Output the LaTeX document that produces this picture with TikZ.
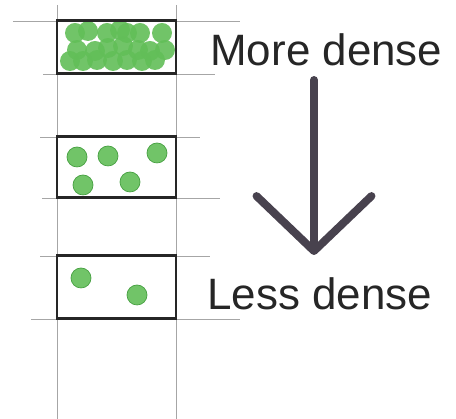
\documentclass[tikz,border=0pt]{standalone}
\usepackage{fontspec}
\setmainfont{Liberation Sans}
\usetikzlibrary{arrows.meta}
\definecolor{pea}{RGB}{98,190,88}
\definecolor{peaedge}{RGB}{70,160,65}
\definecolor{marker}{RGB}{72,66,78}
\tikzset{
  gridline/.style={draw=black!35, line width=0.5pt},
  band/.style={draw=black!85, line width=1.7pt, minimum width=2.38cm, inner sep=0pt},
  pea/.style={fill=pea, fill opacity=0.9},
  peaedged/.style={pea, draw=peaedge, line width=0.4pt},
  label/.style={font=\fontsize{25}{30}\selectfont, text=black!85, anchor=base west, inner sep=0pt},
  flow/.style={-{Straight Barb[length=11mm, width=23mm, line cap=round, line join=round]}, line width=4.5pt, draw=marker, line cap=round},
}
\begin{document}
\begin{tikzpicture}
    \useasboundingbox (0,0) rectangle (9.12,8.38);
    \draw[gridline] (1.14,8.28) -- (1.14,0);
    \draw[gridline] (3.52,8.28) -- (3.52,0);
    \draw[gridline] (0.26,7.96) -- (4.80,7.96);
    \draw[gridline] (0.86,6.90) -- (4.30,6.90);
    \draw[gridline] (0.80,5.64) -- (4.00,5.64);
    \draw[gridline] (0.84,4.42) -- (4.40,4.42);
    \draw[gridline] (0.80,3.26) -- (4.20,3.26);
    \draw[gridline] (0.62,2.00) -- (4.80,2.00);
    \foreach \x/\y in {1.50/7.72, 1.76/7.76, 2.14/7.72, 2.40/7.78, 2.54/7.72, 2.80/7.72, 3.24/7.72,
                       1.54/7.38, 1.90/7.36, 2.16/7.42, 2.46/7.46, 2.76/7.38, 3.00/7.36, 3.30/7.38,
                       1.40/7.16, 1.66/7.16, 1.94/7.18, 2.26/7.16, 2.54/7.18, 2.84/7.16, 3.10/7.18}
      \fill[pea] (\x,\y) circle (0.2);
    \foreach \x/\y in {1.54/5.24, 2.16/5.26, 3.14/5.32, 1.66/4.68, 2.60/4.74, 1.62/2.82, 2.74/2.48}
      \filldraw[peaedged] (\x,\y) circle (0.2);
    \node[band, minimum height=1.06cm] (dense) at (2.33,7.43) {};
    \node[band, minimum height=1.22cm] (medium) at (2.33,5.03) {};
    \node[band, minimum height=1.26cm] (sparse) at (2.33,2.63) {};
    \node[label] (more) at (4.20,7.06) {More dense};
    \node[label] (less) at (4.14,2.18) {Less dense};
    \coordinate (shafttop) at (6.28,6.78);
    \coordinate (shaftend) at (6.28,3.28);
    \draw[flow] (shafttop) -- (shaftend);
  \end{tikzpicture}
\end{document}
